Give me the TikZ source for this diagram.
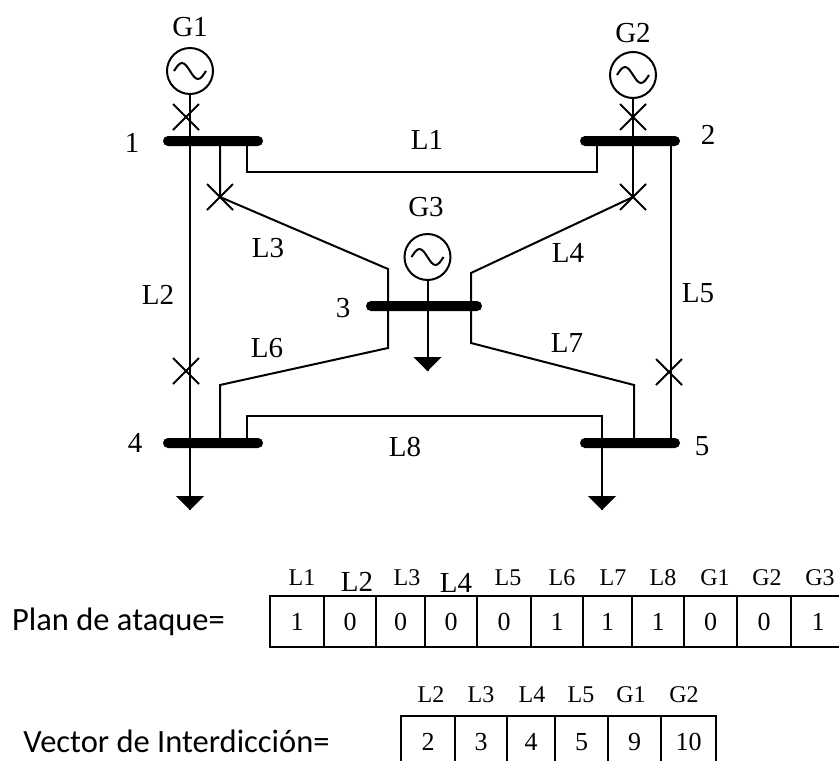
\documentclass[tikz,border=0pt]{standalone}
\usepackage{fontspec}
\setmainfont{Liberation Serif}
\newfontfamily\calibrifont{Carlito}
\usetikzlibrary{shapes.geometric,shapes.misc}

\begin{document}
\begin{tikzpicture}[x=1pt,y=-1pt,line width=2pt,
      every node/.style = {inner sep=0pt, outer sep=0pt, font=\fontsize{29}{31}\selectfont},
      bus/.style = {rectangle, rounded corners=5pt, fill=black, minimum height=10pt},
      gen/.style = {circle, draw, minimum size=46pt, path picture={
          \draw (path picture bounding box.center) ++(-16,0) sin ++(8,-8) cos ++(8,8) sin ++(8,8) cos ++(8,-8);}},
      brk/.style = {cross out, draw, minimum size=26pt},
      carga/.style = {isosceles triangle, isosceles triangle apex angle=90, isosceles triangle stretches,
        shape border rotate=-90, anchor=apex, fill=black, minimum width=28pt, minimum height=14pt},
      cell/.style = {rectangle, draw, font=\fontsize{26}{28}\selectfont},
      head/.style = {font=\fontsize{24}{26}\selectfont},
      bighead/.style = {font=\fontsize{29}{31}\selectfont},
      texto/.style = {font=\calibrifont\fontsize{32.5}{35}\selectfont}]
      \useasboundingbox (0,0) rectangle (839,761);
      \clip (0,0) rectangle (839,761);

      \node[bus, minimum width=100pt] (bus1) at (213,141) {};
      \node[bus, minimum width=100pt] (bus2) at (630,141) {};
      \node[bus, minimum width=116pt] (bus3) at (424,306) {};
      \node[bus, minimum width=100pt] (bus4) at (213,443) {};
      \node[bus, minimum width=100pt] (bus5) at (630,443) {};

      \node[gen] (gen1) at (190,71) {};
      \node[gen] (gen2) at (633,75) {};
      \node[gen] (gen3) at (427.5,257) {};

      \node[carga] (carga3) at (427.5,371) {};
      \node[carga] (carga4) at (190,510) {};
      \node[carga] (carga5) at (602,510) {};

      \node[brk] (brk1) at (186,117) {};
      \node[brk] (brk2) at (633,117) {};
      \node[brk] (brk3) at (220,197) {};
      \node[brk] (brk4) at (633,197) {};
      \node[brk] (brk5) at (186,371) {};
      \node[brk] (brk6) at (669,372) {};

      \coordinate (l1a) at (247,172);
      \coordinate (l1b) at (597,172);
      \coordinate (l3a) at (388,269);
      \coordinate (l4a) at (471,273);
      \coordinate (l5a) at (671,200);
      \coordinate (l6a) at (388,348);
      \coordinate (l6b) at (220,385);
      \coordinate (l7a) at (471,343);
      \coordinate (l7b) at (634,385);
      \coordinate (l8a) at (247,416);
      \coordinate (l8b) at (602,416);

      \draw (gen1) -- (carga4.apex);
      \draw (gen2) -- (brk4.center);
      \draw (gen3) -- (carga3.apex);
      \draw (l1a |- bus1) -- (l1a) -- (l1b) -- (l1b |- bus2);
      \draw (brk3.center |- bus1) -- (brk3.center) -- (l3a) -- (l6a) -- (l6b) -- (l6b |- bus4);
      \draw (brk4.center) -- (l4a) -- (l7a) -- (l7b) -- (l7b |- bus5);
      \draw (l5a |- bus2) -- (l5a |- bus5);
      \draw (l8a |- bus4) -- (l8a) -- (l8b) -- (carga5.apex);

      \node (G1) at (190,27) {G1};
      \node (G2) at (633,33) {G2};
      \node (G3) at (426,207) {G3};
      \node (n1) at (132,143) {1};
      \node (n2) at (708,135) {2};
      \node (n3) at (343,308) {3};
      \node (n4) at (135,443) {4};
      \node (n5) at (702,446) {5};
      \node (L1) at (427,140) {L1};
      \node (L2) at (158,295) {L2};
      \node (L3) at (268,248) {L3};
      \node (L4) at (568,253) {L4};
      \node (L5) at (698,293) {L5};
      \node (L6) at (267,348) {L6};
      \node (L7) at (567,343) {L7};
      \node (L8) at (405,447) {L8};

      \node[texto] (plan) at (118.5,622) {Plan de ataque=};
      \node[texto] (vector) at (176.5,741) {Vector de Interdicción=};

      \foreach \xa/\xb/\val [count=\i] in {270/324/1,324/376/0,376/425/0,425/477/0,477/531/0,
          531/583/1,583/632/1,632/684/1,684/737/0,737/791/0,791/845/1}
        \node[cell, minimum width={(\xb-\xa)*1pt}, minimum height=51pt] (plan\i) at ({(\xa+\xb)/2},621.5) {\val};
      \foreach \xa/\xb/\val [count=\i] in {401/455/2,455/507/3,507/555/4,555/608/5,608/661/9,661/716/10}
        \node[cell, minimum width={(\xb-\xa)*1pt}, minimum height=52pt] (vec\i) at ({(\xa+\xb)/2},742) {\val};

      \foreach \x/\tag [count=\i] in {302/L1,407/L3,508/L5,562/L6,613/L7,663/L8,715/G1,767/G2,820/G3}
        \node[head] (phead\i) at (\x,578) {\tag};
      \node[bighead] (phead10) at (357,582) {L2};
      \node[bighead] (phead11) at (456,583) {L4};
      \foreach \x/\tag [count=\i] in {431/L2,481/L3,532/L4,581/L5,631/G1,684/G2}
        \node[head] (vhead\i) at (\x,695) {\tag};
  \end{tikzpicture}
\end{document}
